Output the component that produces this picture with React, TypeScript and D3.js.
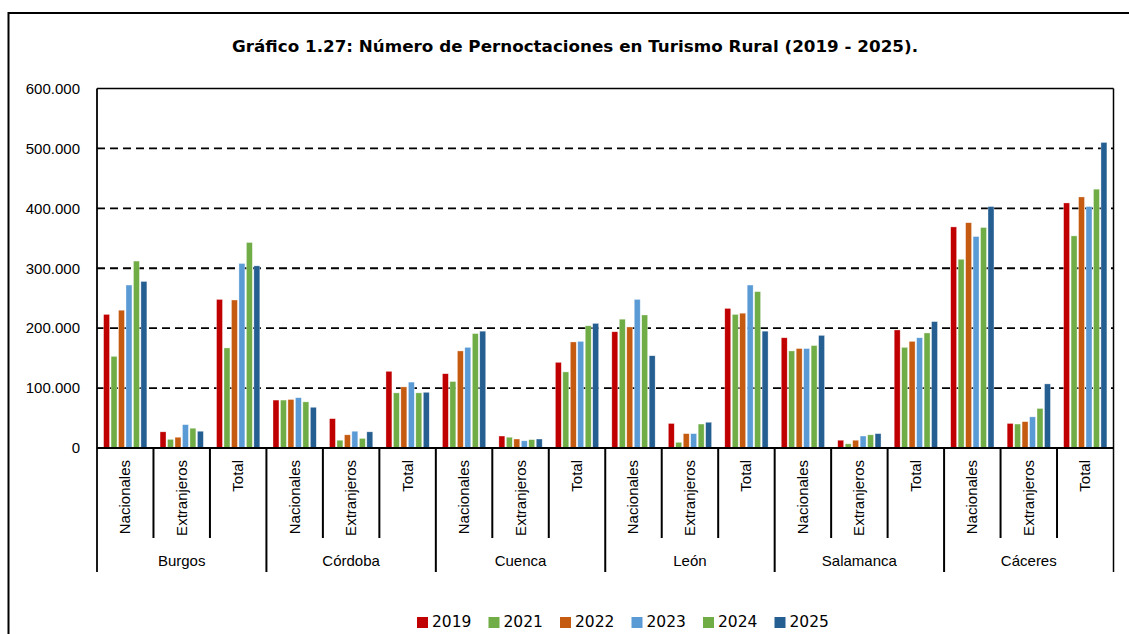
import React from 'react';
import * as d3 from 'd3';

const provinces = ['Burgos', 'Córdoba', 'Cuenca', 'León', 'Salamanca', 'Cáceres'];
const segments = ['Nacionales', 'Extranjeros', 'Total'];
const years = ['2019', '2021', '2022', '2023', '2024', '2025'];
const yearColors = ['#C00000', '#70AD47', '#C55A11', '#5B9BD5', '#70AD47', '#255E91'];
const yTicks = [0, 100000, 200000, 300000, 400000, 500000, 600000];

// one row per province/segment, values in the order of `years`
const burgos = [
  [223000, 153000, 230000, 272000, 312000, 278000],
  [27000, 14500, 18000, 39000, 33000, 28000],
  [248000, 167000, 247000, 308000, 343000, 304000],
];
const cordoba = [
  [80000, 80000, 81000, 84000, 77000, 68000],
  [49000, 13000, 22000, 28000, 16000, 27000],
  [128000, 92000, 102000, 110000, 92000, 93000],
];
const cuenca = [
  [124000, 111000, 162000, 168000, 191000, 195000],
  [20000, 18000, 15000, 12000, 14000, 15000],
  [143000, 127000, 177000, 178000, 204000, 208000],
];
const leon = [
  [194000, 215000, 202000, 248000, 222000, 154000],
  [41000, 9500, 24000, 24000, 40000, 43000],
  [233000, 223000, 225000, 272000, 261000, 195000],
];
const salamanca = [
  [184000, 162000, 166000, 166000, 171000, 188000],
  [13000, 7000, 13000, 20000, 22000, 24000],
  [197000, 168000, 178000, 184000, 192000, 211000],
];
const caceres = [
  [369000, 315000, 376000, 353000, 368000, 403000],
  [41000, 40000, 44000, 52000, 66000, 107000],
  [409000, 354000, 419000, 403000, 432000, 510000],
];
const valuesByProvince = [burgos, cordoba, cuenca, leon, salamanca, caceres];

const W = 1129;
const H = 634;
const margin = { left: 97, right: 1113.5, top: 88.5, bottom: 448 };

export default function App() {
  const rows = provinces.flatMap((p, pi) =>
    segments.map((s, si) => ({ key: `${p}|${s}`, province: p, segment: s, values: valuesByProvince[pi][si] }))
  );

  const x = d3.scaleBand<string>().domain(rows.map(r => r.key)).range([margin.left, margin.right]);
  const bw = x.bandwidth();
  const x1 = d3.scaleBand<string>().domain(years).range([0, bw]).paddingInner(0.2).paddingOuter(0.88);
  const y = d3.scaleLinear().domain([0, 600000]).range([margin.bottom, margin.top]);
  const fmt = (v: number) => (v === 0 ? '0' : d3.format(',')(v).replace(/,/g, '.'));

  const subLineBottom = 538;
  const groupLineBottom = 572;

  return (
    <svg width={W} height={H} style={{ position: 'absolute', left: 0, top: 0, background: '#fff' }}>
      <rect x={8.5} y={13} width={1200} height={700} fill="#fff" stroke="#000" strokeWidth={2} />
      <text x={232} y={52} textLength={686} lengthAdjust="spacingAndGlyphs"
        fontFamily="DejaVu Sans" fontWeight="bold" fontSize={16.5}>
        Gráfico 1.27: Número de Pernoctaciones en Turismo Rural (2019 - 2025).
      </text>

      {/* grid lines */}
      {yTicks.filter(t => t > 0 && t < 600000).map(t => (
        <line key={t} x1={margin.left} x2={margin.right} y1={y(t)} y2={y(t)} stroke="#000" strokeWidth={1.8} strokeDasharray="8,5" />
      ))}
      {/* frame */}
      <line x1={margin.left} x2={margin.right} y1={margin.top} y2={margin.top} stroke="#000" strokeWidth={1.5} />
      <line x1={margin.right} x2={margin.right} y1={margin.top} y2={groupLineBottom} stroke="#000" strokeWidth={1.5} />

      {/* y tick labels */}
      {yTicks.map(t => (
        <text key={t} x={80} y={y(t)} dy="0.35em" textAnchor="end" fontFamily="Liberation Sans" fontSize={15}>
          {fmt(t)}
        </text>
      ))}

      {/* bars */}
      {rows.map(r => (
        <g key={r.key} transform={`translate(${x(r.key)},0)`}>
          {r.values.map((v, i) => (
            <rect key={years[i]} x={x1(years[i])} y={y(v)} width={x1.bandwidth()} height={y(0) - y(v)}
              fill={yearColors[i]} stroke="#fff" strokeOpacity={0.6} strokeWidth={0.6} />
          ))}
        </g>
      ))}

      {/* axes */}
      <line x1={margin.left} x2={margin.left} y1={margin.top} y2={groupLineBottom} stroke="#000" strokeWidth={1.8} />
      <line x1={margin.left} x2={margin.right} y1={y(0)} y2={y(0)} stroke="#000" strokeWidth={2.2} />

      {/* category separators and labels */}
      {rows.map((r, i) => {
        const x0 = x(r.key)!;
        const isGroupStart = i % 3 === 0;
        return (
          <g key={r.key}>
            {i > 0 && (
              <line x1={x0} x2={x0} y1={y(0)} y2={isGroupStart ? groupLineBottom : subLineBottom} stroke="#000" strokeWidth={2} />
            )}
            <text transform={`translate(${x0 + bw / 2 + 5},460) rotate(-90)`} textAnchor="end"
              fontFamily="Liberation Sans" fontSize={15}>
              {r.segment}
            </text>
          </g>
        );
      })}
      {provinces.map(p => {
        const x0 = x(`${p}|${segments[0]}`)!;
        return (
          <text key={p} x={x0 + bw * 1.5} y={561} dy="0.35em" textAnchor="middle" fontFamily="Liberation Sans" fontSize={15}>
            {p}
          </text>
        );
      })}

      {/* legend */}
      {years.map((yr, i) => (
        <g key={yr} transform={`translate(${417 + i * 71.5},0)`}>
          <rect x={0} y={617} width={11} height={11} fill={yearColors[i]} />
          <text x={15} y={622} dy="0.35em" fontFamily="DejaVu Sans" fontSize={15.5}>{yr}</text>
        </g>
      ))}
    </svg>
  );
}
